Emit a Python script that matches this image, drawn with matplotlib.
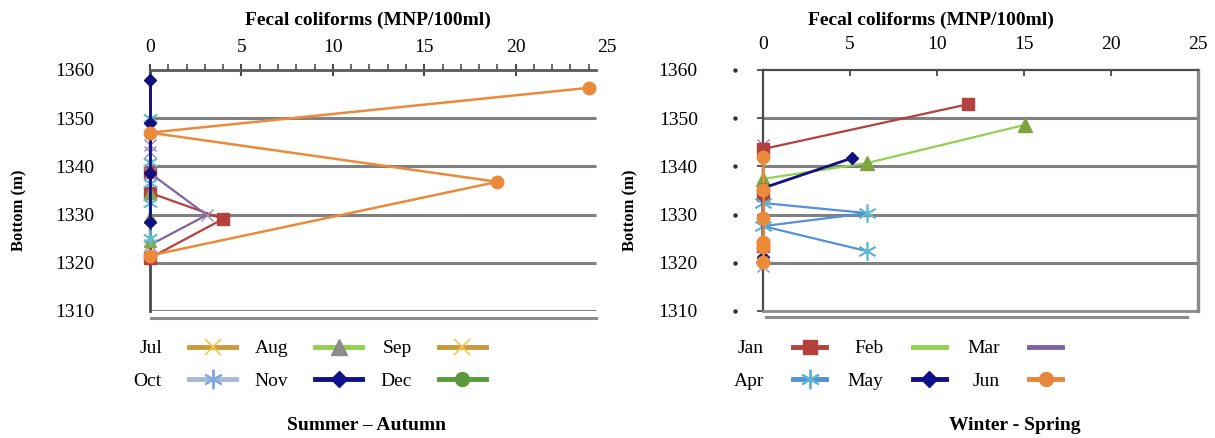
import matplotlib.pyplot as plt
import matplotlib.transforms as mtransforms
from matplotlib.lines import Line2D
from matplotlib.ticker import MultipleLocator

plt.rcParams['font.family'] = ['Liberation Serif', 'DejaVu Serif']

depth_ticks = [1310, 1320, 1330, 1340, 1350, 1360]
coliform_ticks = [0, 5, 10, 15, 20, 25]

# Summer - Autumn profiles: coliforms (x) against bottom depth (y)
sa_orange_x = [24.0, 0, 19.0, 0]
sa_orange_y = [1356.3, 1347.0, 1336.8, 1321.5]
sa_red_x = [0, 0, 4.0, 0]
sa_red_y = [1338.8, 1334.5, 1329.1, 1321.0]
sa_purple_x = [0, 0, 0, 3.1, 0]
sa_purple_y = [1344.5, 1343.0, 1338.6, 1329.9, 1323.7]
sa_navy_x = [0, 0, 0, 0]
sa_navy_y = [1357.9, 1349.0, 1338.6, 1328.5]
sa_cyan_x = [0, 0, 0, 0, 0]
sa_cyan_y = [1350.0, 1340.9, 1336.5, 1332.4, 1325.1]
sa_green_x = [0, 0, 0]
sa_green_y = [1334.5, 1329.5, 1324.5]

# Winter - Spring profiles
ws_red_x = [11.8, 0, 0, 0]
ws_red_y = [1352.9, 1343.6, 1334.0, 1323.5]
ws_green_x = [15.05, 6.0, 0, 0]
ws_green_y = [1348.6, 1340.7, 1337.4, 1321.5]
ws_navy_x = [5.1, 0, 0]
ws_navy_y = [1341.7, 1335.5, 1321.2]
ws_blue_x = [0, 6.0, 0, 6.0]
ws_blue_y = [1332.4, 1330.3, 1327.6, 1322.4]
ws_orange_x = [0, 0, 0, 0, 0, 0]
ws_orange_y = [1342.0, 1335.1, 1329.3, 1324.3, 1323.3, 1320.2]
ws_purple_x = [0, 0]
ws_purple_y = [1344.5, 1319.3]

sa_labels = ['Jul', 'Aug', 'Sep', 'Oct', 'Nov', 'Dec']
ws_labels = ['Jan', 'Feb', 'Mar', 'Apr', 'May', 'Jun']

ASTER = (6, 2, 0)
styles = {
    'orange': dict(color='#EC8A3C', marker='o', ms=9, mfc='#EC8A3C', mec='#EC8A3C'),
    'red': dict(color='#B5403D', marker='s', ms=8, mfc='#B5403D', mec='#B5403D'),
    'purple': dict(color='#8064A2', marker='x', ms=9, mew=1.0, mec='#9B86C0'),
    'navy': dict(color='#10107F', marker='D', ms=6, mfc='#10107F', mec='#10107F'),
    'cyan': dict(color='#4A7FC4', marker=ASTER, ms=11, mew=1.2, mec='#63BCD6'),
    'green': dict(color='#7FB040', marker='^', ms=8, mfc='#86A845', mec='#86A845'),
    'lgreen': dict(color='#92D050', marker='^', ms=10, mfc='#7FA33F', mec='#7FA33F'),
    'blue': dict(color='#5590D8', marker=ASTER, ms=13, mew=1.2, mec='#5CB8D2'),
}

fig = plt.figure(figsize=(12.15, 4.38), dpi=100)
ax1 = fig.add_axes([0.1235, 0.2900, 0.3761, 0.5502])
ax2 = fig.add_axes([0.6280, 0.2900, 0.3576, 0.5502])

grid_color = '#808080'
for ax in (ax1, ax2):
    ax.set_xlim(0, 25)
    ax.set_ylim(1310, 1360)
    ax.xaxis.tick_top()
    ax.xaxis.set_label_position('top')
    ax.set_xticks(coliform_ticks)
    ax.set_yticks(depth_ticks)
    ax.tick_params(labelsize=14)
    ax.set_xlabel('Fecal coliforms (MNP/100ml)', fontsize=14, fontweight='bold')
    ax.set_ylabel('Bottom (m)', fontsize=12, fontweight='bold')

# left panel: open frame, gridlines stop at the end of the top axis
x_end = 24.4
ax1.hlines(depth_ticks[:-1], 0, x_end, color=grid_color, lw=2.2, zorder=1)
ax1.spines['right'].set_visible(False)
ax1.spines['bottom'].set_visible(False)
ax1.spines['top'].set_bounds(0, x_end)
ax1.spines['top'].set_color('#5a5a5a')
ax1.spines['top'].set_linewidth(2)
ax1.spines['left'].set_color('#4a4a4a')
ax1.spines['left'].set_linewidth(2)
ax1.xaxis.set_minor_locator(MultipleLocator(1))
ax1.tick_params(axis='x', which='major', direction='inout', length=8.5, width=1.5,
                color='#4a4a4a', pad=6)
ax1.tick_params(axis='x', which='minor', direction='out', length=4, width=1.3,
                color='#5a5a5a')
ax1.tick_params(axis='y', length=0, pad=40)
ax1.xaxis.get_major_ticks()[-1].tick2line.set_visible(False)
ax1.xaxis.set_label_coords(0.477, 1.185)
ax1.yaxis.set_label_coords(-0.268, 0.42)
trans1 = mtransforms.blended_transform_factory(ax1.transData, ax1.transAxes)
ax1.plot([0.05, x_end], [-0.029, -0.029], transform=trans1, clip_on=False,
         color='#8c8c8c', lw=2.2)

# right panel: boxed frame
ax2.hlines(depth_ticks[1:-1], 0, 25, color=grid_color, lw=2.2, zorder=1)
for side in ('left', 'top', 'bottom'):
    ax2.spines[side].set_color('#4a4a4a')
    ax2.spines[side].set_linewidth(1.6)
ax2.spines['bottom'].set_color('#8a8a8a')
ax2.spines['bottom'].set_linewidth(2)
ax2.spines['right'].set_color('#8a8a8a')
ax2.spines['right'].set_linewidth(2.4)
ax2.tick_params(axis='x', direction='in', length=4, width=1.3, color='#4a4a4a', pad=12)
ax2.tick_params(axis='y', direction='out', length=4, width=1.3, color='#4a4a4a', pad=43)
ax2.xaxis.set_label_coords(0.387, 1.185)
ax2.yaxis.set_label_coords(-0.287, 0.42)
trans2 = mtransforms.blended_transform_factory(ax2.transAxes, ax2.transData)
ax2.plot([-0.064] * len(depth_ticks), depth_ticks, 'o', ms=2.2, color='#333333',
         transform=trans2, clip_on=False)
trans2b = mtransforms.blended_transform_factory(ax2.transData, ax2.transAxes)
ax2.plot([0.2, 24.4], [-0.025, -0.025], transform=trans2b, clip_on=False,
         color='#8c8c8c', lw=2.2)

# summer - autumn series
ax1.plot(sa_red_x, sa_red_y, lw=1.6, zorder=3, clip_on=False, **styles['red'])
ax1.plot(sa_purple_x, sa_purple_y, lw=1.6, zorder=3, clip_on=False, **styles['purple'])
ax1.plot(sa_green_x, sa_green_y, lw=1.6, zorder=3, clip_on=False, **styles['green'])
ax1.plot(sa_cyan_x, sa_cyan_y, lw=1.6, zorder=3, clip_on=False, **styles['cyan'])
ax1.plot(sa_navy_x, sa_navy_y, lw=2.0, zorder=4, clip_on=False, **styles['navy'])
ax1.plot(sa_orange_x, sa_orange_y, lw=1.8, zorder=5, clip_on=False, **styles['orange'])

# winter - spring series
ax2.plot(ws_purple_x, ws_purple_y, lw=1.6, zorder=3, clip_on=False, **styles['purple'])
ax2.plot(ws_red_x, ws_red_y, lw=1.6, zorder=3, clip_on=False, **styles['red'])
ax2.plot(ws_green_x, ws_green_y, lw=1.6, zorder=3, clip_on=False, **styles['lgreen'])
ax2.plot(ws_blue_x, ws_blue_y, lw=1.6, zorder=3, clip_on=False, **styles['blue'])
ax2.plot(ws_navy_x, ws_navy_y, lw=2.0, zorder=4, clip_on=False, **styles['navy'])
ax2.plot(ws_orange_x, ws_orange_y, lw=1.8, zorder=5, clip_on=False, **styles['orange'])

# legend handles (as drawn in the source figure)
gold = dict(color='#C99A3C', lw=3.5, marker='x', ms=12, mew=1.3, mec='#F5C850')
sa_handles = [
    Line2D([], [], **gold),
    Line2D([], [], color='#92D050', lw=3.5, marker='^', ms=12, mfc='#8C8C8C', mec='#8C8C8C'),
    Line2D([], [], **gold),
    Line2D([], [], color='#A8B8D2', lw=3.5, marker=ASTER, ms=14, mew=1.4, mec='#7FA9DE'),
    Line2D([], [], color='#10108A', lw=3.5, marker='D', ms=8, mfc='#10108A', mec='#10108A'),
    Line2D([], [], color='#5B9A3A', lw=3.5, marker='o', ms=10, mfc='#5B9A3A', mec='#5B9A3A'),
]
ws_handles = [
    Line2D([], [], color='#B5403D', lw=3.5, marker='s', ms=10, mfc='#B5403D', mec='#B5403D'),
    Line2D([], [], color='#92D050', lw=3.5),
    Line2D([], [], color='#8064A2', lw=3.5),
    Line2D([], [], color='#5590D8', lw=3.5, marker=ASTER, ms=14, mew=1.4, mec='#5CB8D2'),
    Line2D([], [], color='#10108A', lw=3.5, marker='D', ms=8, mfc='#10108A', mec='#10108A'),
    Line2D([], [], color='#E8873B', lw=3.5, marker='o', ms=10, mfc='#E8873B', mec='#E8873B'),
]

order = [0, 3, 1, 4, 2, 5]
leg_kw = dict(ncol=3, markerfirst=False, frameon=False, fontsize=14, numpoints=1,
              borderpad=0, labelspacing=0.75, loc='upper left')
fig.legend([sa_handles[i] for i in order], [sa_labels[i] for i in order],
           bbox_to_anchor=(124 / 1215, 1 - 330 / 438), handlelength=2.4,
           handletextpad=1.4, columnspacing=0.95, **leg_kw)
fig.legend([ws_handles[i] for i in order], [ws_labels[i] for i in order],
           bbox_to_anchor=(724 / 1215, 1 - 330 / 438), handlelength=1.7,
           handletextpad=1.5, columnspacing=1.1, **leg_kw)

fig.text(366 / 1215, 1 - 425 / 438, 'Summer \u2013 Autumn', ha='center', va='center',
         fontsize=14, fontweight='bold')
fig.text(1015 / 1215, 1 - 425 / 438, 'Winter - Spring', ha='center', va='center',
         fontsize=14, fontweight='bold')

fig.savefig('out.png', dpi=100, facecolor='white')
